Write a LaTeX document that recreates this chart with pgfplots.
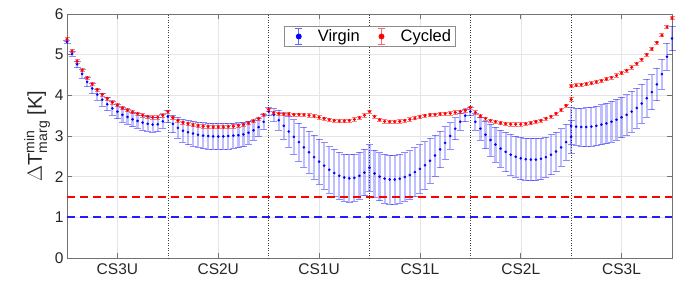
\documentclass[border=0pt]{standalone}
\usepackage{fontspec}
\setmainfont{Liberation Sans}
\usepackage{amsmath}
\usepackage{pgfplots}
\pgfplotsset{compat=1.18}
\usepackage{pgfplotstable}
\definecolor{mblue}{RGB}{0,0,255}
\definecolor{lblue}{RGB}{30,30,255}
\definecolor{mred}{RGB}{255,0,0}

\pgfplotstableread{
x y e
0.00 5.32 0.04
0.05 5.02 0.06
0.10 4.76 0.08
0.15 4.53 0.10
0.20 4.33 0.12
0.25 4.17 0.13
0.30 4.02 0.14
0.35 3.89 0.15
0.40 3.78 0.16
0.45 3.68 0.17
0.50 3.60 0.17
0.55 3.52 0.18
0.60 3.47 0.18
0.65 3.41 0.18
0.70 3.37 0.18
0.75 3.33 0.18
0.80 3.30 0.18
0.85 3.28 0.18
0.90 3.29 0.18
0.95 3.36 0.17
1.00 3.48 0.15
1.05 3.30 0.22
1.10 3.20 0.26
1.15 3.13 0.28
1.20 3.09 0.30
1.25 3.06 0.31
1.30 3.03 0.31
1.35 3.01 0.32
1.40 3.00 0.32
1.45 2.99 0.32
1.50 2.99 0.32
1.55 2.99 0.32
1.60 3.00 0.32
1.65 3.01 0.31
1.70 3.02 0.31
1.75 3.04 0.30
1.80 3.08 0.28
1.85 3.14 0.25
1.90 3.22 0.22
1.95 3.35 0.18
2.00 3.60 0.10
2.05 3.52 0.15
2.10 3.39 0.25
2.15 3.25 0.32
2.20 3.11 0.38
2.25 2.98 0.42
2.30 2.85 0.46
2.35 2.72 0.49
2.40 2.60 0.52
2.45 2.48 0.54
2.50 2.37 0.56
2.55 2.27 0.57
2.60 2.17 0.57
2.65 2.09 0.58
2.70 2.02 0.58
2.75 1.98 0.58
2.80 1.96 0.58
2.85 1.97 0.58
2.90 2.02 0.58
2.95 2.10 0.57
3.00 2.22 0.57
3.05 2.08 0.58
3.10 2.00 0.59
3.15 1.95 0.60
3.20 1.93 0.60
3.25 1.93 0.60
3.30 1.95 0.60
3.35 1.99 0.60
3.40 2.04 0.60
3.45 2.11 0.60
3.50 2.19 0.60
3.55 2.28 0.58
3.60 2.39 0.55
3.65 2.52 0.50
3.70 2.67 0.45
3.75 2.83 0.40
3.80 3.00 0.33
3.85 3.18 0.27
3.90 3.35 0.20
3.95 3.50 0.15
4.00 3.60 0.10
4.05 3.35 0.20
4.10 3.18 0.28
4.15 3.03 0.34
4.20 2.90 0.39
4.25 2.79 0.43
4.30 2.69 0.46
4.35 2.61 0.49
4.40 2.54 0.50
4.45 2.49 0.51
4.50 2.45 0.52
4.55 2.43 0.52
4.60 2.42 0.52
4.65 2.42 0.52
4.70 2.44 0.51
4.75 2.48 0.50
4.80 2.54 0.49
4.85 2.62 0.48
4.90 2.72 0.46
4.95 2.85 0.44
5.00 2.98 0.40
5.00 3.25 0.45
5.05 3.23 0.46
5.10 3.22 0.47
5.15 3.22 0.48
5.20 3.23 0.48
5.25 3.25 0.49
5.30 3.28 0.49
5.35 3.31 0.50
5.40 3.35 0.50
5.45 3.40 0.50
5.50 3.46 0.50
5.55 3.52 0.50
5.60 3.60 0.50
5.65 3.69 0.49
5.70 3.80 0.48
5.75 3.93 0.46
5.80 4.08 0.43
5.85 4.27 0.40
5.90 4.52 0.37
5.95 4.95 0.33
6.00 5.40 0.30
}\virgin

\pgfplotstableread{
x y e
0.00 5.38 0.05
0.05 5.09 0.04
0.10 4.84 0.04
0.15 4.62 0.04
0.20 4.43 0.04
0.25 4.28 0.04
0.30 4.14 0.04
0.35 4.02 0.04
0.40 3.92 0.04
0.45 3.83 0.04
0.50 3.76 0.04
0.55 3.69 0.04
0.60 3.64 0.04
0.65 3.59 0.04
0.70 3.55 0.04
0.75 3.51 0.04
0.80 3.48 0.04
0.85 3.46 0.04
0.90 3.46 0.04
0.95 3.51 0.04
1.00 3.60 0.04
1.05 3.45 0.04
1.10 3.38 0.04
1.15 3.33 0.04
1.20 3.30 0.04
1.25 3.27 0.04
1.30 3.25 0.04
1.35 3.24 0.04
1.40 3.23 0.04
1.45 3.22 0.04
1.50 3.22 0.04
1.55 3.22 0.04
1.60 3.23 0.04
1.65 3.24 0.04
1.70 3.26 0.04
1.75 3.28 0.04
1.80 3.32 0.04
1.85 3.37 0.04
1.90 3.43 0.04
1.95 3.52 0.04
2.00 3.65 0.04
2.05 3.57 0.04
2.10 3.55 0.04
2.15 3.54 0.04
2.20 3.54 0.04
2.25 3.53 0.04
2.30 3.53 0.04
2.35 3.52 0.04
2.40 3.51 0.04
2.45 3.49 0.04
2.50 3.46 0.04
2.55 3.43 0.04
2.60 3.40 0.04
2.65 3.38 0.04
2.70 3.37 0.04
2.75 3.37 0.04
2.80 3.38 0.04
2.85 3.41 0.04
2.90 3.45 0.04
2.95 3.51 0.04
3.00 3.60 0.04
3.05 3.48 0.04
3.10 3.40 0.04
3.15 3.36 0.04
3.20 3.35 0.04
3.25 3.35 0.04
3.30 3.36 0.04
3.35 3.38 0.04
3.40 3.41 0.04
3.45 3.44 0.04
3.50 3.47 0.04
3.55 3.50 0.04
3.60 3.52 0.04
3.65 3.53 0.04
3.70 3.54 0.04
3.75 3.55 0.04
3.80 3.56 0.04
3.85 3.58 0.04
3.90 3.60 0.04
3.95 3.63 0.04
4.00 3.70 0.04
4.05 3.58 0.04
4.10 3.49 0.04
4.15 3.43 0.04
4.20 3.38 0.04
4.25 3.35 0.04
4.30 3.32 0.04
4.35 3.30 0.04
4.40 3.29 0.04
4.45 3.29 0.04
4.50 3.29 0.04
4.55 3.30 0.04
4.60 3.32 0.04
4.65 3.35 0.04
4.70 3.38 0.04
4.75 3.43 0.04
4.80 3.48 0.04
4.85 3.55 0.04
4.90 3.64 0.04
4.95 3.75 0.04
5.00 3.90 0.04
5.00 4.23 0.04
5.05 4.25 0.04
5.10 4.26 0.04
5.15 4.28 0.04
5.20 4.30 0.04
5.25 4.33 0.04
5.30 4.36 0.04
5.35 4.40 0.04
5.40 4.44 0.04
5.45 4.49 0.04
5.50 4.55 0.04
5.55 4.61 0.04
5.60 4.69 0.04
5.65 4.78 0.04
5.70 4.88 0.04
5.75 5.00 0.04
5.80 5.14 0.04
5.85 5.30 0.04
5.90 5.48 0.04
5.95 5.68 0.04
6.00 5.90 0.04
}\cycled

\pgfplotstableread{
x lo hi
0 1 1.5
6 1 1.5
}\limits

\begin{document}
\begin{tikzpicture}
\begin{axis}[
  scale only axis, width=605pt, height=244pt,
  xmin=0, xmax=6, ymin=0, ymax=6,
  clip=false,
  xtick={0.5,1.5,2.5,3.5,4.5,5.5},
  xticklabels={CS3U,CS2U,CS1U,CS1L,CS2L,CS3L},
  ytick={0,1,2,3,4,5,6},
  extra x ticks={1,2,3,4,5},
  extra x tick labels={},
  extra x tick style={grid=major, major grid style={black!75, dotted, line width=0.6pt}, major tick length=0pt},
  grid=major,
  major grid style={black!10, line width=0.5pt},
  axis line style={black!55, line width=0.7pt},
  tick style={black!55, line width=0.6pt},
  major tick length=5pt,
  tick align=inside,
  /pgf/number format/assume math mode=true,
  ticklabel style={font=\fontsize{15.5}{18}\selectfont, text=black!85},
  xticklabel style={yshift=-2pt},
  ylabel={$\Delta$T$^{\text{min}}_{\text{marg}}$ [K]},
  ylabel style={font=\fontsize{20}{24}\selectfont, text=black!85, yshift=-2pt},
  legend style={draw=black!45, line width=0.6pt, at={(0.5,0.951)}, anchor=north,
    legend columns=2, font=\fontsize{16.5}{19}\selectfont,
    inner ysep=1.5pt, inner xsep=2pt,
    /tikz/every even column/.append style={column sep=7pt}},
  legend cell align=left,
]
\addplot[only marks, mark=*, mark size=1.1pt, color=mblue, mark options={draw=mblue, fill=mblue},
  legend image code/.code={
    \node[inner sep=0pt, minimum width=1.05cm, minimum height=0.1cm, anchor=west] at (0cm,0cm) {};
    \draw[mblue!60, line width=0.7pt] (0.46cm,-0.28cm) -- (0.46cm,0.28cm);
    \draw[mblue!60, line width=0.7pt] (0.34cm,-0.28cm) -- (0.58cm,-0.28cm);
    \draw[mblue!60, line width=0.7pt] (0.34cm,0.28cm) -- (0.58cm,0.28cm);
    \fill[mblue] (0.46cm,0cm) circle (2.6pt);},
  error bars/.cd, y dir=both, y explicit,
  error bar style={mblue, opacity=0.25, line width=2.2pt},
  error mark options={rotate=90, mblue, opacity=0.45, mark size=3.5pt, line width=0.6pt},
  ] table[x=x, y=y, y error=e] {\virgin};
\addlegendentry{Virgin}
\addplot[only marks, mark=*, mark size=1.4pt, color=mred, mark options={draw=mred, fill=mred},
  legend image code/.code={
    \node[inner sep=0pt, minimum width=1.05cm, minimum height=0.1cm, anchor=west] at (0cm,0cm) {};
    \draw[mred!60, line width=0.7pt] (0.46cm,-0.28cm) -- (0.46cm,0.28cm);
    \draw[mred!60, line width=0.7pt] (0.34cm,-0.28cm) -- (0.58cm,-0.28cm);
    \draw[mred!60, line width=0.7pt] (0.34cm,0.28cm) -- (0.58cm,0.28cm);
    \fill[mred] (0.46cm,0cm) circle (2.6pt);},
  error bars/.cd, y dir=both, y explicit,
  error bar style={mred, opacity=0.5, line width=0.6pt},
  error mark options={rotate=90, mred, opacity=0.5, mark size=2.5pt, line width=0.6pt},
  ] table[x=x, y=y, y error=e] {\cycled};
\addlegendentry{Cycled}
\addplot[draw=mred, mark=none, line width=1.9pt, dash pattern=on 8pt off 5pt, forget plot] table[x=x, y=hi] {\limits};
\addplot[draw=lblue, mark=none, line width=2.2pt, dash pattern=on 8pt off 5pt, forget plot] table[x=x, y=lo] {\limits};
\end{axis}
\path ([xshift=-67pt,yshift=-26pt]current axis.south west) rectangle ([xshift=24pt,yshift=14pt]current axis.north east);
\end{tikzpicture}
\end{document}
